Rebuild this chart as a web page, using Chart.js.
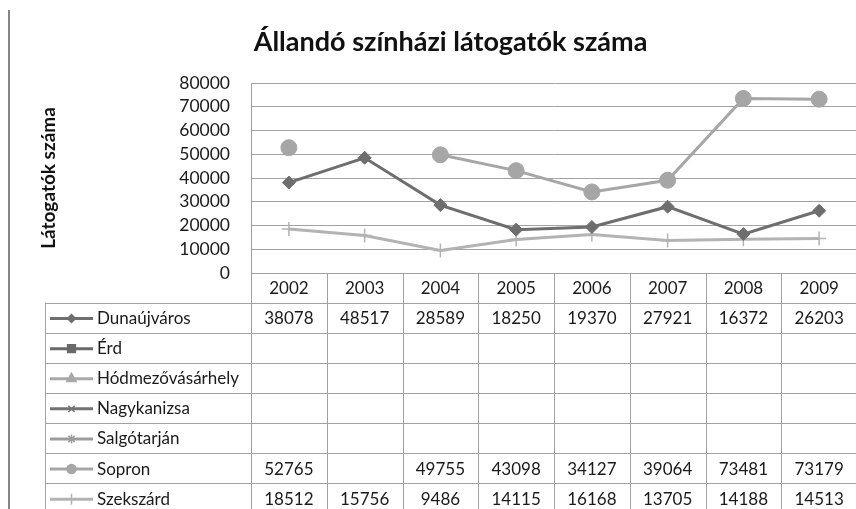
<!DOCTYPE html>
<html>
<head>
<meta charset="utf-8">
<script src="https://cdn.jsdelivr.net/npm/chart.js@4.4.1/dist/chart.umd.min.js"></script>
<style>
  body { margin: 0; overflow: hidden; background: #fff; }
  #wrap { position: relative; width: 866px; height: 509px; }
  #edge { position: absolute; left: 8px; top: 10px; width: 2px; height: 499px; background: #858585; }
</style>
</head>
<body>
<div id="wrap"><canvas id="chart" width="866" height="509"></canvas></div>
<div id="edge"></div>
<script>
// years on the x axis / header row of the data table
var years = ['2002', '2003', '2004', '2005', '2006', '2007', '2008', '2009'];

// visitors per town (null = no data)
var dunaujvaros = [38078, 48517, 28589, 18250, 19370, 27921, 16372, 26203];
var erd = [null, null, null, null, null, null, null, null];
var hodmezovasarhely = [null, null, null, null, null, null, null, null];
var nagykanizsa = [null, null, null, null, null, null, null, null];
var salgotarjan = [null, null, null, null, null, null, null, null];
var sopron = [52765, null, 49755, 43098, 34127, 39064, 73481, 73179];
var szekszard = [18512, 15756, 9486, 14115, 16168, 13705, 14188, 14513];

var yTicks = [0, 10000, 20000, 30000, 40000, 50000, 60000, 70000, 80000];

var textColor = '#1a1a1a';
var lineGray = '#a2a2a2';

function series(label, data, color, style, radius, keyRadius) {
	return {
		label: label,
		data: data,
		borderColor: color,
		backgroundColor: color,
		pointBackgroundColor: color,
		pointBorderColor: color,
		borderWidth: 3,
		pointStyle: style,
		pointRadius: radius,
		pointHoverRadius: radius,
		pointBorderWidth: (style == 'cross' || style == 'crossRot' || style == 'star') ? 1.5 : 1,
		tension: 0,
		spanGaps: false,
		keyRadius: keyRadius
	};
}

var datasets = [
	series('Dunaújváros', dunaujvaros, '#6e6e6e', 'rectRot', 6.5, 4),
	series('Érd', erd, '#6a6a6a', 'rect', 5, 5.5),
	series('Hódmezővásárhely', hodmezovasarhely, '#a9a9a9', 'triangle', 5, 5.5),
	series('Nagykanizsa', nagykanizsa, '#727272', 'crossRot', 5, 4.5),
	series('Salgótarján', salgotarjan, '#9c9c9c', 'star', 5, 4.5),
	series('Sopron', sopron, '#a6a6a6', 'circle', 8, 4.5),
	series('Szekszárd', szekszard, '#b3b3b3', 'cross', 7, 5.5)
];

// draws the Excel style data table under the plot, aligned to the x scale
var dataTable = {
	id: 'dataTable',
	afterDraw: function(chart) {
		var ctx = chart.ctx;
		var area = chart.chartArea;
		var xs = chart.scales.x;
		var colW = (area.right - area.left) / years.length;
		var headBottom = area.bottom + 29.5;
		var rowH = 30.1;
		var tableLeft = 45;
		var nRows = datasets.length;

		ctx.save();
		ctx.strokeStyle = lineGray;
		ctx.lineWidth = 1;

		// horizontal lines
		ctx.beginPath();
		ctx.moveTo(area.left, Math.round(area.bottom) + 0.5);
		ctx.lineTo(area.right, Math.round(area.bottom) + 0.5);
		for (var r = 0; r <= nRows; r++) {
			var y = Math.round(headBottom + r * rowH) + 0.5;
			ctx.moveTo(tableLeft, y);
			ctx.lineTo(area.right, y);
		}
		// vertical lines
		for (var c = 0; c <= years.length; c++) {
			var x = Math.round(area.left + c * colW) + 0.5;
			ctx.moveTo(x, area.bottom);
			ctx.lineTo(x, chart.height);
		}
		ctx.moveTo(tableLeft + 0.5, headBottom);
		ctx.lineTo(tableLeft + 0.5, chart.height);
		ctx.stroke();

		ctx.fillStyle = textColor;
		ctx.font = '17px Lato';
		ctx.textBaseline = 'middle';
		ctx.textAlign = 'center';

		// header: years
		for (var i = 0; i < years.length; i++) {
			ctx.fillText(years[i], xs.getPixelForValue(i), (area.bottom + headBottom) / 2 + 1);
		}

		// rows
		for (var d = 0; d < datasets.length; d++) {
			var ds = datasets[d];
			var cy = headBottom + d * rowH + rowH / 2 + 1;

			// legend key
			ctx.strokeStyle = ds.borderColor;
			ctx.fillStyle = ds.borderColor;
			ctx.lineWidth = 3;
			ctx.beginPath();
			ctx.moveTo(50, cy);
			ctx.lineTo(93, cy);
			ctx.stroke();
			ctx.lineWidth = 1.5;
			if (Chart.helpers && Chart.helpers.drawPoint) {
				Chart.helpers.drawPoint(ctx, {
					pointStyle: ds.pointStyle,
					radius: ds.keyRadius,
					rotation: 0,
					borderWidth: 1
				}, 71.5, cy);
			}

			ctx.fillStyle = textColor;
			ctx.textAlign = 'left';
			ctx.fillText(ds.label, 97, cy);

			ctx.textAlign = 'center';
			for (var j = 0; j < years.length; j++) {
				if (ds.data[j] !== null) {
					ctx.fillText(String(ds.data[j]), xs.getPixelForValue(j), cy);
				}
			}
		}
		ctx.restore();
	}
};

new Chart(document.getElementById('chart'), {
	type: 'line',
	data: {
		labels: years,
		datasets: datasets
	},
	options: {
		responsive: false,
		animation: false,
		devicePixelRatio: 1,
		layout: {
			padding: { left: 37, right: 2, top: 0, bottom: 236 }
		},
		plugins: {
			legend: { display: false },
			tooltip: { enabled: false },
			title: {
				display: true,
				text: 'Állandó színházi látogatók száma',
				color: '#111',
				font: { family: 'Lato', size: 27, weight: 'bold' },
				padding: { top: 26, bottom: 24.6 }
			}
		},
		scales: {
			x: {
				offset: true,
				grid: { display: false, drawTicks: false },
				border: { display: false },
				ticks: { display: false },
				afterFit: function(scale) { scale.height = 0; }
			},
			y: {
				min: 0,
				max: 80000,
				afterBuildTicks: function(scale) {
					scale.ticks = yTicks.map(function(v) { return { value: v }; });
				},
				ticks: {
					autoSkip: false,
					padding: 21,
					color: textColor,
					font: { family: 'Lato', size: 17.5 },
					callback: function(v) { return String(v); }
				},
				grid: { color: lineGray, drawTicks: false },
				border: { display: true, color: lineGray },
				title: {
					display: true,
					text: 'Látogatók száma',
					color: '#111',
					font: { family: 'Lato', size: 19, weight: 'bold' },
					padding: 0
				},
				afterFit: function(scale) { scale.width = 214; }
			}
		}
	},
	plugins: [dataTable]
});
</script>
</body>
</html>
